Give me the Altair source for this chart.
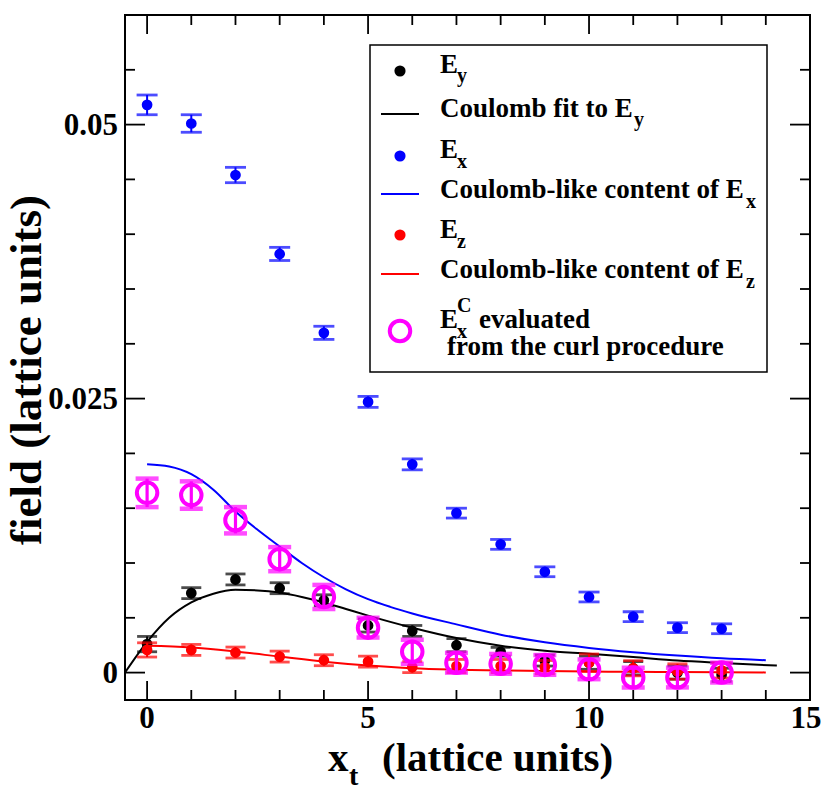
import altair as alt
import pandas as pd

# ---------------- data ----------------
xs = list(range(14))

ey = [0.0026, 0.00725, 0.0085, 0.0077, 0.0066, 0.0043, 0.0038, 0.0025, 0.0019, 0.0011, 0.0009, 0.0004, 0.0000, -0.0002]
ey_err = [0.0007, 0.0005, 0.0005, 0.0005, 0.0005, 0.0006, 0.0005, 0.0006, 0.0004, 0.0005, 0.0006, 0.0006, 0.0006, 0.0006]

ex = [0.0518, 0.0501, 0.0454, 0.0382, 0.0310, 0.0247, 0.0190, 0.01455, 0.0117, 0.0092, 0.0069, 0.0051, 0.0041, 0.0040]
ex_err = [0.0009, 0.0008, 0.0007, 0.0006, 0.0006, 0.0005, 0.0005, 0.00045, 0.00045, 0.00045, 0.00045, 0.00045, 0.00045, 0.00045]

ez = [0.00207, 0.00207, 0.00183, 0.00146, 0.00113, 0.0010, 0.0005, 0.0006, 0.0006, 0.0005, 0.0009, 0.0004, 0.0001, 0.0002]
ez_err = [0.00065, 0.0005, 0.0005, 0.0005, 0.0005, 0.0005, 0.0005, 0.0006, 0.0006, 0.0006, 0.0008, 0.0007, 0.0007, 0.0007]

exc = [0.0164, 0.0162, 0.0139, 0.01035, 0.0069, 0.0041, 0.0019, 0.0009, 0.0008, 0.0007, 0.0003, -0.00045, -0.00045, 0.0000]
exc_err = [0.0013, 0.00125, 0.0012, 0.0011, 0.0011, 0.0009, 0.0011, 0.0009, 0.0009, 0.0009, 0.0009, 0.0009, 0.0009, 0.0009]

fit_ey_x = [-0.5, 0, 0.5, 1, 1.5, 2, 2.5, 3, 3.5, 4, 4.5, 5, 6, 7, 8, 9, 10, 11, 12, 13, 14.25]
fit_ey = [0.0, 0.0028, 0.0050, 0.0064, 0.0072, 0.00755, 0.0075, 0.0073, 0.0069, 0.0064, 0.0058, 0.0052, 0.0041, 0.00316, 0.00246, 0.0020, 0.00172, 0.00142, 0.0011, 0.00088, 0.00064]

coul_ex_x = [0, 0.5, 1, 1.5, 2, 2.5, 3, 3.5, 4, 4.5, 5, 5.5, 6, 7, 8, 9, 10, 11, 12, 13, 14]
coul_ex = [0.0190, 0.0188, 0.0181, 0.01668, 0.0147, 0.01303, 0.0115, 0.0100, 0.0087, 0.0076, 0.0067, 0.0060, 0.0054, 0.0044, 0.00346, 0.00276, 0.00225, 0.00186, 0.00155, 0.0013, 0.00113]

coul_ez_x = [0, 1, 2, 3, 4, 5, 6, 7, 8, 9, 10, 11, 12, 13, 14]
coul_ez = [0.00244, 0.00229, 0.00192, 0.00146, 0.0010, 0.00065, 0.0004, 0.00027, 0.00019, 0.00014, 0.0001, 0.00007, 0.00005, 0.00003, 0.00002]

x_major = [0, 5, 10, 15]
x_minor = [1, 2, 3, 4, 6, 7, 8, 9, 11, 12, 13, 14]
x_labels = ["0", "5", "10", "15"]
y_major = [0.0, 0.025, 0.05]
y_minor = [0.005, 0.01, 0.015, 0.02, 0.03, 0.035, 0.04, 0.045, 0.055]
y_labels = ["0", "0.025", "0.05"]

# ---------------- layout ----------------
W, H = 685, 685
FONT = "Liberation Serif, Times New Roman, Times, serif"
xs_scale = alt.Scale(domain=[-0.5, 15], nice=False, zero=False)
ys_scale = alt.Scale(domain=[-0.0025, 0.06], nice=False, zero=False)


def X(f):
    return alt.X(f, type="quantitative", scale=xs_scale, axis=None)


def Y(f):
    return alt.Y(f, type="quantitative", scale=ys_scale, axis=None)


def points_layers(xv, v, err, color, filled, psize, cap, stem_w, cap_w, stroke_w=2):
    df = pd.DataFrame({"x": xv, "v": v,
                       "lo": [a - b for a, b in zip(v, err)],
                       "hi": [a + b for a, b in zip(v, err)]})
    base = alt.Chart(df)
    stem = base.mark_rule(color=color, strokeWidth=stem_w).encode(x=X("x"), y=Y("lo"), y2="hi")
    c1 = base.mark_tick(color=color, orient="horizontal", size=cap, thickness=cap_w).encode(x=X("x"), y=Y("lo"))
    c2 = base.mark_tick(color=color, orient="horizontal", size=cap, thickness=cap_w).encode(x=X("x"), y=Y("hi"))
    if filled:
        pt = base.mark_point(shape="circle", filled=True, color=color, size=psize, opacity=1).encode(x=X("x"), y=Y("v"))
    else:
        pt = base.mark_point(shape="circle", filled=False, color=color, size=psize,
                             strokeWidth=stroke_w, opacity=1).encode(x=X("x"), y=Y("v"))
    return [stem, c1, c2, pt]


def curve(xv, v, color):
    df = pd.DataFrame({"x": xv, "v": v})
    return alt.Chart(df).mark_line(color=color, strokeWidth=2, interpolate="monotone").encode(x=X("x"), y=Y("v"))


one = pd.DataFrame({"a": [0]})


def txt(s, x, y, size, align="left", angle=0):
    kw = dict(text=s, font=FONT, fontWeight="bold", fontSize=size, align=align,
              baseline="alphabetic", color="black")
    if angle:
        kw["angle"] = angle
    return alt.Chart(one).mark_text(**kw).encode(x=alt.value(x), y=alt.value(y))


layers = []
# data series
layers += points_layers(xs, ey, ey_err, "black", True, 115, 20, 2, 2.8)
layers.append(curve(fit_ey_x, fit_ey, "black"))
layers += points_layers(xs, ex, ex_err, "#0000ff", True, 115, 21, 2, 2.8)
layers.append(curve(coul_ex_x, coul_ex, "#0000ff"))
layers += points_layers(xs, ez, ez_err, "#ff0000", True, 115, 20, 2, 2.8)
layers.append(curve(coul_ez_x, coul_ez, "#ff0000"))
layers += points_layers(xs, exc, exc_err, "#ff00ff", False, 420, 23, 3.2, 4.5, stroke_w=4)

# ticks (inward, on all four sides)
MAJ, MIN = 19, 10
for vals, L in ((x_major, MAJ), (x_minor, MIN)):
    d = pd.DataFrame({"v": vals})
    layers.append(alt.Chart(d).mark_rule(color="black", strokeWidth=1.8).encode(
        x=X("v"), y=alt.value(H), y2=alt.value(H - L)))
    layers.append(alt.Chart(d).mark_rule(color="black", strokeWidth=1.8).encode(
        x=X("v"), y=alt.value(0), y2=alt.value(L)))
for vals, L in ((y_major, 20), (y_minor, MIN)):
    d = pd.DataFrame({"v": vals})
    layers.append(alt.Chart(d).mark_rule(color="black", strokeWidth=1.8).encode(
        y=Y("v"), x=alt.value(0), x2=alt.value(L)))
    layers.append(alt.Chart(d).mark_rule(color="black", strokeWidth=1.8).encode(
        y=Y("v"), x=alt.value(W), x2=alt.value(W - L)))

# tick labels (the last x label is nudged so it stays inside the page)
TF = 31
dxl = pd.DataFrame({"v": x_major[:-1], "lab": x_labels[:-1]})
layers.append(alt.Chart(dxl).mark_text(font=FONT, fontWeight="bold", fontSize=TF, align="center",
                                       baseline="alphabetic", color="black").encode(
    x=X("v"), y=alt.value(713), text="lab"))
dxl2 = pd.DataFrame({"v": x_major[-1:], "lab": x_labels[-1:]})
layers.append(alt.Chart(dxl2).mark_text(font=FONT, fontWeight="bold", fontSize=TF, align="center",
                                        baseline="alphabetic", dx=-4, color="black").encode(
    x=X("v"), y=alt.value(713), text="lab"))
dyl = pd.DataFrame({"v": y_major, "lab": y_labels})
layers.append(alt.Chart(dyl).mark_text(font=FONT, fontWeight="bold", fontSize=TF, align="right",
                                       baseline="alphabetic", dy=10.5, color="black").encode(
    y=Y("v"), x=alt.value(-7), text="lab"))

# axis titles
layers.append(txt("field (lattice units)", -84, 355, 45, align="center", angle=270))
layers.append(txt("x", 203, 756, 41))
layers.append(txt("t", 224, 770, 28))
layers.append(txt("(lattice units)", 257, 756, 41))

# legend
layers.append(alt.Chart(one).mark_rect(fill="white", stroke="black", strokeWidth=1.5).encode(
    x=alt.value(245), x2=alt.value(642), y=alt.value(30), y2=alt.value(357)))


def leg_dot(y, color):
    return alt.Chart(one).mark_point(shape="circle", filled=True, color=color, size=125, opacity=1).encode(
        x=alt.value(275), y=alt.value(y))


def leg_line(y, color):
    return alt.Chart(one).mark_rule(color=color, strokeWidth=2).encode(
        x=alt.value(256), x2=alt.value(294), y=alt.value(y))


LF, SF = 27, 20
layers += [leg_dot(56, "black"), txt("E", 315, 58, LF), txt("y", 332, 67, SF)]
layers += [leg_line(99, "black"), txt("Coulomb fit to E", 315, 102, LF), txt("y", 509, 111, SF)]
layers += [leg_dot(141, "#0000ff"), txt("E", 315, 143, LF), txt("x", 332, 153, SF)]
layers += [leg_line(179, "#0000ff"), txt("Coulomb-like content of E", 315, 183, LF), txt("x", 621, 193, SF)]
layers += [leg_dot(220, "#ff0000"), txt("E", 315, 223, LF), txt("z", 332, 233, SF)]
layers += [leg_line(259, "#ff0000"), txt("Coulomb-like content of E", 315, 263, LF), txt("z", 621, 273, SF)]
layers.append(alt.Chart(one).mark_point(shape="circle", filled=False, color="#ff00ff", size=420,
                                        strokeWidth=4, opacity=1).encode(x=alt.value(275), y=alt.value(316)))
layers += [txt("E", 315, 313, LF), txt("C", 332, 297, SF), txt("x", 332, 323, SF),
           txt("evaluated", 354, 313, LF), txt("from the curl procedure", 322, 340, LF)]

chart = alt.layer(*layers).properties(
    width=W, height=H,
    autosize=alt.AutoSizeParams(type="none"),
    padding={"left": 117, "top": 7, "right": 12, "bottom": 92},
    background="white",
).configure_view(stroke="black", strokeWidth=2)

chart.save("out.html", embed_options={"renderer": "svg", "actions": False})
